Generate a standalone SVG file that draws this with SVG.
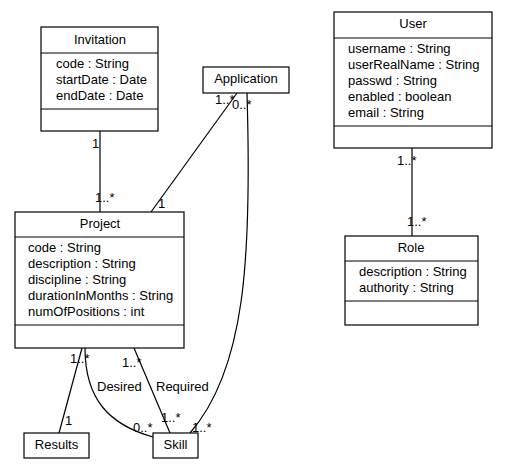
<svg xmlns="http://www.w3.org/2000/svg" width="505" height="475" viewBox="0 0 505 475">
<style>
  .box { fill: #fff; stroke: #000; stroke-width: 1.2; }
  .sep { stroke: #000; stroke-width: 1.2; fill: none; }
  .edge { stroke: #000; stroke-width: 1.2; fill: none; }
  text { font-family: "Liberation Sans", Arial, sans-serif; font-size: 13px; fill: #000; }
  .c { text-anchor: middle; }
</style>
<rect width="505" height="475" fill="#fff"/>
<g id="connectors">
  <path class="edge" d="M100,131 L100,212"/>
  <path class="edge" d="M151,212 L237,93"/>
  <path class="edge" d="M247,93 C252,260 245,370 190,433"/>
  <path class="edge" d="M412,148 L412,236"/>
  <path class="edge" d="M82,348 L59,433"/>
  <path class="edge" d="M85,348 C85,400 110,425 153,437"/>
  <path class="edge" d="M134,348 L170,433"/>
  <text x="92" y="148">1</text>
  <text x="95" y="202">1..*</text>
  <text x="158" y="208">1</text>
  <text x="215" y="104">1..*</text>
  <text x="232" y="109">0..*</text>
  <text x="397" y="165">1..*</text>
  <text x="407" y="226">1..*</text>
  <text x="70" y="363">1..*</text>
  <text x="65" y="425">1</text>
  <text x="122" y="367">1..*</text>
  <text x="97" y="391">Desired</text>
  <text x="156" y="391">Required</text>
  <text x="133" y="432">0..*</text>
  <text x="161" y="422">1..*</text>
  <text x="192" y="432">1..*</text>
</g>
<g id="Invitation">
  <rect class="box" x="41" y="27" width="117" height="104"/>
  <path class="sep" d="M41,53 H158 M41,109 H158"/>
  <text class="c" x="100" y="44">Invitation</text>
  <text x="56" y="68">code : String</text>
  <text x="56" y="84">startDate : Date</text>
  <text x="56" y="100">endDate : Date</text>
</g>
<g id="Application">
  <rect class="box" x="203" y="67" width="86" height="26"/>
  <text class="c" x="246" y="83">Application</text>
</g>
<g id="User">
  <rect class="box" x="334" y="12" width="158" height="136"/>
  <path class="sep" d="M334,38 H492 M334,126 H492"/>
  <text class="c" x="413" y="28">User</text>
  <text x="348" y="53">username : String</text>
  <text x="348" y="69">userRealName : String</text>
  <text x="348" y="85">passwd : String</text>
  <text x="348" y="101">enabled : boolean</text>
  <text x="348" y="117">email : String</text>
</g>
<g id="Role">
  <rect class="box" x="345" y="236" width="133" height="89"/>
  <path class="sep" d="M345,261 H478 M345,301 H478"/>
  <text class="c" x="411" y="252">Role</text>
  <text x="359" y="276">description : String</text>
  <text x="359" y="292">authority : String</text>
</g>
<g id="Project">
  <rect class="box" x="15" y="212" width="169" height="136"/>
  <path class="sep" d="M15,237 H184 M15,325 H184"/>
  <text class="c" x="100" y="228">Project</text>
  <text x="28" y="252">code : String</text>
  <text x="28" y="268">description : String</text>
  <text x="28" y="284">discipline : String</text>
  <text x="28" y="300">durationInMonths : String</text>
  <text x="28" y="316">numOfPositions : int</text>
</g>
<g id="Results">
  <rect class="box" x="24" y="433" width="65" height="25"/>
  <text class="c" x="56.5" y="449">Results</text>
</g>
<g id="Skill">
  <rect class="box" x="153" y="433" width="45" height="25"/>
  <text class="c" x="175.5" y="449">Skill</text>
</g>
</svg>
